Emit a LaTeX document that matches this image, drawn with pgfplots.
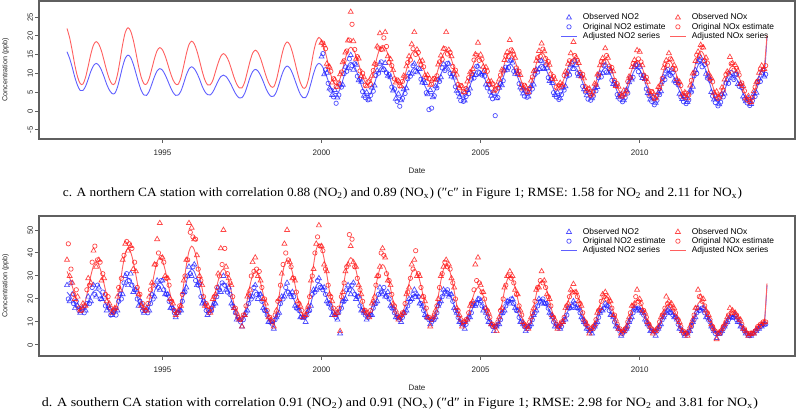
\documentclass[border=0pt]{standalone}
\usepackage{pgfplots}
\pgfplotsset{compat=1.18}
\usepackage{pgfplotstable}
\usepackage{graphicx}
\usepackage{fontspec}
\setmainfont{Liberation Serif}
\newfontfamily\arial{Liberation Sans}

\definecolor{bluemk}{RGB}{35,35,255}
\definecolor{redmk}{RGB}{255,25,25}
\definecolor{blueln}{RGB}{95,95,255}
\definecolor{redln}{RGB}{255,95,95}
\definecolor{boxgr}{RGB}{95,95,95}

% x = months since Jan 1992, b = NO2, r = NOx
% ---------- panel c (northern station) ----------
\pgfplotstableread{
m b r
0 15.8 22.0
1 14.0 19.5
2 11.6 16.0
3 8.9 12.1
4 6.8 9.1
5 5.5 7.3
6 5.5 7.2
7 6.6 9.0
8 8.5 12.0
9 10.6 15.2
10 12.1 17.6
11 12.7 18.5
12 12.2 17.8
13 10.9 16.0
14 9.1 13.4
15 7.1 10.7
16 5.6 8.5
17 4.7 7.2
18 4.7 7.3
19 6.3 9.6
20 9.0 13.5
21 11.9 17.8
22 14.1 21.0
23 14.9 22.2
24 14.3 21.3
25 12.5 18.9
26 10.1 15.5
27 7.6 11.9
28 5.5 9.0
29 4.3 7.3
30 4.2 7.2
31 5.3 8.7
32 7.2 11.3
33 9.2 14.0
34 10.7 16.1
35 11.3 16.9
36 10.9 16.3
37 9.7 14.7
38 8.1 12.5
39 6.4 10.2
40 5.0 8.3
41 4.2 7.2
42 4.3 7.2
43 5.4 9.0
44 7.4 12.0
45 9.6 15.2
46 11.2 17.7
47 11.8 18.6
48 11.3 17.9
49 10.1 16.0
50 8.5 13.4
51 6.6 10.6
52 5.2 8.3
53 4.4 7.0
54 4.3 7.0
55 5.1 8.2
56 6.5 10.5
57 8.0 12.8
58 9.2 14.6
59 9.6 15.3
60 9.2 14.7
61 8.2 13.3
62 6.9 11.2
63 5.4 9.0
64 4.2 7.2
65 3.5 6.2
66 3.6 6.2
67 4.7 7.7
68 6.7 10.4
69 8.9 13.2
70 10.5 15.4
71 11.1 16.2
72 10.7 15.6
73 9.5 14.0
74 7.9 11.8
75 6.1 9.5
76 4.7 7.6
77 3.9 6.5
78 4.0 6.5
79 5.2 8.4
80 7.3 11.5
81 9.6 14.9
82 11.3 17.4
83 12.0 18.4
84 11.5 17.7
85 10.1 15.7
86 8.2 12.9
87 6.2 10.0
88 4.5 7.6
89 3.6 6.2
90 3.6 6.3
91 5.0 8.3
92 7.4 11.8
93 10.0 15.7
94 12.0 18.5
95 12.7 19.6
96 12.2 18.8
97 10.9 16.8
98 9.1 14.1
99 7.1 11.0
100 5.6 8.6
101 4.7 7.3
102 4.7 7.2
103 5.9 8.7
104 8.2 11.3
105 10.5 14.1
106 12.3 16.2
107 13.0 17.0
108 12.5 16.4
109 11.0 14.8
110 9.0 12.6
111 6.9 10.2
112 5.2 8.3
113 4.2 7.2
114 4.2 7.2
115 5.4 8.8
116 7.4 11.5
117 9.7 14.5
118 11.4 16.7
119 12.0 17.5
120 11.5 16.9
121 10.1 15.2
122 8.3 12.9
123 6.2 10.4
124 4.6 8.4
125 3.7 7.2
126 3.7 7.2
127 4.9 8.5
128 6.9 10.9
129 9.2 13.4
130 10.9 15.3
131 11.5 16.0
132 11.1 15.5
133 10.0 14.1
134 8.4 12.3
135 6.7 10.2
136 5.4 8.6
137 4.6 7.7
138 4.7 7.7
139 5.8 8.9
140 7.7 11.2
141 9.8 13.5
142 11.4 15.3
143 12.0 16.0
144 11.5 15.4
145 10.1 13.7
146 8.3 11.4
147 6.2 8.9
148 4.6 6.9
149 3.7 5.7
150 3.7 5.7
151 4.8 7.0
152 6.7 9.4
153 8.8 11.9
154 10.4 13.8
155 11.0 14.5
156 10.6 14.0
157 9.5 12.6
158 7.9 10.8
159 6.2 8.7
160 4.9 7.1
161 4.1 6.2
162 4.2 6.2
163 5.4 7.6
164 7.7 10.1
165 10.0 12.7
166 11.8 14.7
167 12.5 15.5
168 12.0 14.9
169 10.7 13.3
170 9.0 11.1
171 7.1 8.7
172 5.5 6.8
173 4.7 5.7
174 4.7 5.7
175 5.9 7.2
176 7.9 9.8
177 10.2 12.6
178 11.9 14.7
179 12.5 15.5
180 12.0 15.0
181 10.6 13.5
182 8.8 11.5
183 6.7 9.4
184 5.1 7.7
185 4.2 6.7
186 4.2 6.7
187 5.4 7.8
188 7.4 9.7
189 9.7 11.8
190 11.4 13.4
191 12.0 14.0
192 11.5 13.5
193 10.2 12.0
194 8.5 10.0
195 6.6 7.9
196 5.0 6.2
197 4.2 5.2
198 4.2 5.2
199 5.3 6.5
200 7.2 8.9
201 9.3 11.4
202 10.9 13.3
203 11.5 14.0
204 11.0 13.4
205 9.7 11.9
206 8.0 9.8
207 6.1 7.5
208 4.5 5.7
209 3.7 4.7
210 3.7 4.7
211 4.9 6.0
212 6.9 8.4
213 9.2 10.9
214 10.9 12.8
215 11.5 13.5
216 11.0 12.9
217 9.6 11.4
218 7.7 9.3
219 5.6 7.0
220 3.9 5.2
221 3.0 4.2
222 3.0 4.2
223 4.1 5.6
224 6.1 8.1
225 8.3 10.7
226 9.9 12.7
227 10.5 13.5
228 10.1 12.9
229 8.9 11.4
230 7.2 9.3
231 5.4 7.0
232 4.0 5.2
233 3.2 4.2
234 3.2 4.2
235 4.7 6.0
236 7.3 9.2
237 10.1 12.5
238 12.2 15.0
239 13.0 16.0
240 12.4 15.3
241 10.7 13.4
242 8.4 10.8
243 5.9 8.0
244 3.9 5.7
245 2.7 4.4
246 2.6 4.4
247 3.7 5.5
248 5.5 7.6
249 7.5 9.7
250 8.9 11.4
251 9.5 12.0
252 9.1 11.5
253 8.0 10.0
254 6.4 8.0
255 4.7 5.9
256 3.4 4.2
257 2.6 3.2
258 2.7 3.2
259 3.8 4.5
260 5.7 6.9
261 7.8 9.4
262 9.4 11.3
263 10.0 12.0
264 19.6 20.2
}\TopLine

\pgfplotstableread{
m b r
96 14.5 18.2
97 9.8 17.5
98 10.2 12.6
99 6.0 11.8
100 4.3 7.6
101 5.6 8.4
102 3.6 6.5
103 7.1 9.8
104 7.0 13.0
105 11.8 15.6
106 11.4 18.8
107 14.9 26.4
108 11.0 18.6
109 12.3 13.9
110 8.2 14.0
111 7.8 9.3
112 4.1 9.0
113 5.0 6.6
114 3.1 8.1
115 6.3 9.4
116 6.8 12.6
117 10.8 17.2
118 12.6 20.7
119 10.9 16.4
120 12.8 21.0
121 9.4 14.6
122 9.0 13.8
123 5.5 10.9
124 3.3 7.6
125 4.6 8.0
126 2.9 6.6
127 5.8 9.4
128 6.1 11.9
129 10.1 14.6
130 9.9 17.8
131 12.6 21.0
132 10.3 16.4
133 11.2 13.2
134 7.6 13.4
135 7.5 9.5
136 4.5 9.6
137 5.6 7.0
138 3.7 8.5
139 6.6 8.3
140 8.4 12.4
141 9.0 14.8
142 12.5 16.6
143 11.1 21.0
144 12.6 16.3
145 9.2 14.6
146 8.9 10.6
147 5.4 9.7
148 3.8 6.1
149 4.4 6.6
150 2.8 5.0
151 5.6 7.9
152 6.0 10.3
153 9.7 11.2
154 9.6 15.1
155 11.9 18.2
156 9.8 15.0
157 10.4 11.8
158 7.1 11.7
159 7.0 8.0
160 4.1 7.9
161 4.9 5.4
162 3.4 6.9
163 6.2 8.4
164 6.9 11.0
165 10.8 13.6
166 11.0 15.7
167 13.4 18.9
168 12.9 16.0
169 9.9 14.2
170 9.8 10.2
171 6.3 9.6
172 4.7 6.0
173 5.5 6.5
174 3.9 5.0
175 6.7 8.1
176 7.1 10.6
177 11.0 13.4
178 11.2 16.0
179 13.4 18.0
180 11.2 15.9
181 11.4 12.7
182 8.0 12.3
183 7.5 8.6
184 4.3 8.5
185 5.0 6.0
186 3.4 7.5
187 6.2 7.0
188 6.6 10.5
189 10.5 12.6
190 12.2 15.4
191 11.2 18.4
192 12.3 14.3
193 9.4 12.8
194 9.3 9.2
195 5.8 8.7
196 4.2 5.4
197 5.0 6.0
198 3.4 4.4
199 6.1 7.3
200 6.4 9.7
201 10.1 12.2
202 10.1 14.1
203 12.3 16.7
204 10.2 14.2
205 10.5 11.1
206 7.2 10.6
207 6.9 6.7
208 3.7 6.5
209 4.5 3.9
210 2.9 5.5
211 5.7 5.2
212 7.7 9.2
213 8.4 11.7
214 11.7 13.6
215 12.3 16.2
216 11.8 15.8
217 8.8 12.2
218 8.5 8.5
219 4.8 7.8
220 3.1 4.4
221 3.8 5.0
222 2.2 3.4
223 4.9 6.4
224 5.3 7.3
225 9.1 11.5
226 10.7 13.5
227 9.7 15.4
228 10.9 13.7
229 8.1 12.2
230 8.0 8.5
231 4.6 7.8
232 3.2 4.4
233 4.0 5.0
234 2.4 3.4
235 5.5 6.8
236 6.5 10.0
237 10.9 13.3
238 13.0 15.8
239 14.2 17.6
240 13.2 16.9
241 9.9 14.2
242 9.2 10.0
243 5.1 8.8
244 3.1 4.9
245 3.5 5.2
246 1.8 3.6
247 4.5 6.3
248 4.7 8.4
249 8.3 10.5
250 9.7 14.4
251 8.7 12.8
252 9.9 12.3
253 7.2 10.8
254 7.2 7.2
255 3.9 6.7
256 2.6 3.4
257 3.4 4.0
258 1.9 2.4
259 4.6 5.3
260 4.9 7.7
261 8.6 10.2
262 10.2 12.1
263 9.2 11.2
}\TopObs

\pgfplotstableread{
m b r
96.5 15.3 18.1
97.5 11.0 16.6
98.5 7.4 11.8
99.5 5.6 10.6
100.5 3.8 8.6
101.5 2.1 6.5
102.5 4.3 7.5
103.5 6.4 10.4
104.5 10.0 13.4
105.5 10.6 16.0
106.5 13.9 18.9
107.5 12.1 23.1
108.5 12.6 16.4
109.5 9.3 14.5
110.5 8.5 10.7
111.5 5.2 10.1
112.5 3.6 6.9
113.5 3.0 7.8
114.5 4.2 7.1
115.5 5.3 10.8
116.5 9.5 12.4
117.5 10.1 16.8
118.5 13.1 16.4
119.5 11.0 19.5
120.5 10.2 17.2
121.5 9.7 13.0
122.5 6.4 12.1
123.5 5.9 8.6
124.5 2.6 8.3
125.5 1.3 6.7
126.5 3.4 7.9
127.5 4.7 9.1
128.5 8.6 12.9
129.5 9.3 13.6
130.5 12.1 16.6
131.5 10.6 15.1
132.5 11.4 15.6
133.5 8.5 12.3
134.5 8.2 11.8
135.5 4.9 8.9
136.5 0.4 8.6
137.5 0.8 7.2
138.5 4.1 8.7
139.5 6.2 9.4
140.5 7.9 13.1
141.5 11.5 13.8
142.5 10.8 16.6
143.5 12.7 15.2
144.5 10.0 15.6
145.5 9.9 11.9
146.5 6.5 10.9
147.5 4.8 7.1
148.5 2.8 6.8
149.5 2.6 5.1
150.5 3.9 6.0
151.5 4.7 8.9
152.5 8.5 10.0
153.5 8.8 13.6
154.5 11.9 14.9
155.5 10.2 13.5
156.5 9.6 13.8
157.5 9.3 10.8
158.5 6.2 10.6
159.5 5.1 7.1
160.5 3.3 7.3
161.5 -1.2 5.7
162.5 3.6 6.1
163.5 7.3 9.6
164.5 8.1 10.7
165.5 11.7 14.6
166.5 11.6 14.5
167.5 13.6 16.3
168.5 10.6 14.9
169.5 10.7 11.5
170.5 7.3 10.6
171.5 5.6 7.0
172.5 4.0 6.9
173.5 3.7 5.1
174.5 5.0 6.1
175.5 5.9 9.1
176.5 9.8 10.8
177.5 10.4 14.2
178.5 13.4 14.6
179.5 11.5 16.5
180.5 12.3 14.0
181.5 8.9 13.2
182.5 8.4 9.9
183.5 4.9 9.2
184.5 3.8 6.4
185.5 3.1 6.9
186.5 4.4 6.6
187.5 5.6 9.5
188.5 9.3 10.0
189.5 9.6 13.4
190.5 12.6 13.1
191.5 13.4 14.8
192.5 10.0 13.5
193.5 9.8 10.3
194.5 6.6 9.8
195.5 5.1 6.5
196.5 3.2 5.9
197.5 2.9 4.2
198.5 4.0 5.1
199.5 5.4 7.0
200.5 8.9 9.6
201.5 9.1 13.1
202.5 12.1 13.0
203.5 10.4 14.8
204.5 11.3 12.0
205.5 8.2 11.6
206.5 7.6 8.2
207.5 4.4 7.3
208.5 3.2 4.4
209.5 2.5 4.0
210.5 3.6 4.5
211.5 4.8 7.9
212.5 8.9 8.9
213.5 9.0 12.6
214.5 12.2 12.4
215.5 10.5 13.9
216.5 9.6 13.1
217.5 9.4 9.6
218.5 5.9 9.0
219.5 4.1 5.4
220.5 2.6 5.2
221.5 1.7 3.3
222.5 2.9 4.2
223.5 4.4 6.0
224.5 7.8 8.7
225.5 8.4 12.4
226.5 11.1 12.2
227.5 9.5 13.9
228.5 10.3 11.4
229.5 7.6 11.1
230.5 7.0 7.6
231.5 3.8 6.8
232.5 2.5 3.9
233.5 2.0 4.8
234.5 3.0 4.3
235.5 5.1 8.2
236.5 9.4 10.2
237.5 10.0 14.9
238.5 13.7 14.6
239.5 11.8 17.0
240.5 12.4 13.4
241.5 8.8 12.8
242.5 8.2 8.6
243.5 4.0 7.8
244.5 2.3 4.1
245.5 1.4 3.4
246.5 2.4 4.3
247.5 3.8 5.6
248.5 7.5 9.7
249.5 7.4 10.1
250.5 10.3 12.6
251.5 8.4 10.9
252.5 9.8 11.4
253.5 6.6 9.6
254.5 6.3 7.5
255.5 3.2 5.4
256.5 2.2 3.0
257.5 1.5 2.4
258.5 2.8 3.6
259.5 3.9 6.4
260.5 7.6 7.9
261.5 7.9 11.2
262.5 10.9 11.0
263.5 9.8 12.1
}\TopEst

% ---------- panel d (southern station) ----------
\pgfplotstableread{
m b r
0 23.0 32.0
1 21.6 29.3
2 19.8 25.5
3 17.7 21.4
4 16.1 18.2
5 15.2 16.3
6 15.2 16.4
7 16.5 19.4
8 18.9 24.6
9 21.4 30.2
10 23.3 34.4
11 24.0 36.0
12 23.4 34.7
13 21.7 31.3
14 19.4 26.5
15 16.9 21.4
16 14.9 17.3
17 13.7 14.9
18 13.8 15.1
19 16.1 19.2
20 20.2 26.3
21 24.5 34.0
22 27.8 39.8
23 29.0 42.0
24 28.1 40.4
25 25.8 36.2
26 22.6 30.3
27 19.1 24.0
28 16.4 18.9
29 14.8 16.0
30 14.8 16.0
31 16.6 19.3
32 19.9 25.2
33 23.4 31.5
34 26.0 36.2
35 27.0 38.0
36 26.2 36.6
37 23.9 32.7
38 20.8 27.4
39 17.5 21.7
40 14.8 17.1
41 13.3 14.5
42 13.4 14.6
43 16.4 18.9
44 21.6 26.5
45 27.2 34.6
46 31.4 40.7
47 33.0 43.0
48 31.9 41.4
49 28.8 37.0
50 24.6 30.9
51 20.1 24.3
52 16.5 19.1
53 14.4 16.1
54 14.3 15.9
55 16.2 18.5
56 19.6 23.0
57 23.2 27.9
58 26.0 31.6
59 27.0 33.0
60 26.0 31.7
61 23.3 28.1
62 19.5 23.1
63 15.4 17.7
64 12.2 13.4
65 10.3 11.0
66 10.3 10.9
67 12.4 14.2
68 16.0 19.7
69 19.9 25.8
70 22.9 30.3
71 24.0 32.0
72 23.1 30.7
73 20.7 27.1
74 17.4 22.1
75 13.8 16.7
76 11.0 12.4
77 9.3 10.0
78 9.3 10.1
79 11.6 14.2
80 15.5 21.3
81 19.7 29.0
82 22.8 34.8
83 24.0 37.0
84 23.3 35.5
85 21.3 31.6
86 18.5 26.2
87 15.5 20.3
88 13.1 15.7
89 11.8 13.0
90 11.8 13.1
91 14.1 17.9
92 18.2 26.0
93 22.5 34.9
94 25.8 41.5
95 27.0 44.0
96 26.1 42.2
97 23.8 37.3
98 20.6 30.6
99 17.1 23.3
100 14.4 17.5
101 12.8 14.1
102 12.8 14.0
103 14.6 17.7
104 17.9 24.0
105 21.4 30.9
106 24.0 36.0
107 25.0 38.0
108 24.2 36.5
109 22.1 32.5
110 19.3 27.0
111 16.2 21.0
112 13.7 16.3
113 12.3 13.5
114 12.2 13.4
115 14.0 16.7
116 17.2 22.5
117 20.5 28.6
118 23.0 33.2
119 24.0 35.0
120 23.2 33.6
121 21.1 29.8
122 18.3 24.7
123 15.2 19.0
124 12.7 14.6
125 11.3 12.0
126 11.2 11.9
127 12.9 15.2
128 15.7 20.7
129 18.8 26.8
130 21.1 31.3
131 22.0 33.0
132 21.3 31.7
133 19.4 28.1
134 16.7 23.1
135 13.8 17.7
136 11.6 13.4
137 10.2 11.0
138 10.3 11.0
139 12.4 14.7
140 16.0 21.0
141 19.9 27.9
142 22.9 33.0
143 24.0 35.0
144 23.1 33.4
145 20.6 29.3
146 17.2 23.6
147 13.5 17.3
148 10.5 12.4
149 8.8 9.5
150 8.7 9.3
151 10.3 11.7
152 13.0 15.9
153 16.0 20.4
154 18.2 23.7
155 19.0 25.0
156 18.3 24.0
157 16.5 21.3
158 13.9 17.5
159 11.2 13.4
160 9.0 10.2
161 7.7 8.3
162 7.7 8.4
163 9.5 11.7
164 12.7 17.5
165 16.0 23.6
166 18.5 28.2
167 19.5 30.0
168 18.8 28.7
169 16.8 25.1
170 14.0 20.1
171 11.0 14.7
172 8.6 10.4
173 7.3 8.0
174 7.3 7.9
175 9.2 11.0
176 12.6 16.3
177 16.2 22.1
178 19.0 26.4
179 20.0 28.0
180 19.3 26.8
181 17.3 23.6
182 14.5 19.2
183 11.5 14.4
184 9.1 10.6
185 7.8 8.4
186 7.7 8.3
187 9.3 10.6
188 12.0 14.7
189 15.0 19.0
190 17.2 22.3
191 18.0 23.5
192 17.3 22.5
193 15.4 19.8
194 12.7 16.0
195 9.8 11.9
196 7.6 8.7
197 6.2 6.8
198 6.2 6.8
199 7.9 9.1
200 10.7 13.0
201 13.8 17.2
202 16.1 20.3
203 17.0 21.5
204 16.3 20.5
205 14.4 18.0
206 11.7 14.5
207 8.8 10.6
208 6.6 7.6
209 5.2 5.8
210 5.2 5.8
211 7.0 7.9
212 9.9 11.5
213 13.2 15.4
214 15.6 18.4
215 16.5 19.5
216 15.8 18.7
217 14.1 16.5
218 11.7 13.6
219 9.0 10.3
220 6.9 7.8
221 5.7 6.3
222 5.7 6.2
223 7.1 8.0
224 9.6 11.2
225 12.2 14.5
226 14.2 17.0
227 15.0 18.0
228 14.4 17.2
229 12.7 15.1
230 10.4 12.3
231 7.9 9.2
232 5.9 6.7
233 4.7 5.3
234 4.7 5.3
235 6.5 7.4
236 9.4 11.0
237 12.7 14.9
238 15.1 17.9
239 16.0 19.0
240 15.3 18.2
241 13.5 15.9
242 10.9 12.8
243 8.2 9.5
244 6.0 6.8
245 4.7 5.3
246 4.7 5.2
247 5.9 6.6
248 7.9 9.1
249 10.2 11.7
250 11.9 13.7
251 12.5 14.5
252 12.0 13.9
253 10.6 12.3
254 8.8 10.1
255 6.7 7.7
256 5.1 5.8
257 4.2 4.7
258 4.1 4.6
259 4.9 5.4
260 6.2 6.9
261 7.6 8.4
262 8.6 9.6
263 9.0 10.0
264 26.0 26.8
}\BotLine

\pgfplotstableread{
m b r
0 26 37
1 19 30
2 22 27
3 16 20
4 17 21
5 14 15
6 16 18
7 15 17
8 21 29
9 19 27
10 26 41
11 21 34
12 25 37
13 20 28
14 21 29
15 15 19
16 16 18
17 13 14
18 15 16
19 15 21
20 22 24
21 22 37
22 30 44
23 26 41
24 31 43
25 23 33
26 24 32
27 17 22
28 18 17
29 14 16
30 16 15
31 15 21
32 22 27
33 21 35
34 28 46
35 24 53
36 28 38
37 22 30
38 22 29
39 16 20
40 16 18
41 12 13
42 14 15
43 15 17
44 23 28
45 25 37
46 34 53
47 30 51
48 35 46
49 26 39
50 27 30
51 18 26
52 18 17
53 13 17
54 15 14
55 17 20
56 18 22
57 25 31
58 23 42
59 30 50
60 24 34
61 25 29
62 18 26
63 16 16
64 11 14
65 11 11
66 8 8
67 13 13
68 15 21
69 21 24
70 21 36
71 26 38
72 20 30
73 22 28
74 16 20
75 15 18
76 10 12
77 10 11
78 7 8
79 12 15
80 14 20
81 21 31
82 21 44
83 27 50
84 22 36
85 23 29
86 17 28
87 16 19
88 12 17
89 12 12
90 10 13
91 15 17
92 17 28
93 24 33
94 24 44
95 29 52
96 25 43
97 25 35
98 19 32
99 18 22
100 13 19
101 13 13
102 11 14
103 5 6
104 19 23
105 20 32
106 26 35
107 22 43
108 27 36
109 20 34
110 21 26
111 15 22
112 14 15
113 11 14
114 13 12
115 13 18
116 18 21
117 19 30
118 25 34
119 22 42
120 21 38
121 23 28
122 17 26
123 16 18
124 12 15
125 12 11
126 10 13
127 14 14
128 15 22
129 20 25
130 20 35
131 24 37
132 22 30
133 18 30
134 17 21
135 13 19
136 12 12
137 9 8
138 11 12
139 12 15
140 17 20
141 19 30
142 24 34
143 22 37
144 21 35
145 22 29
146 16 25
147 14 16
148 10 13
149 9 8
150 7 10
151 11 11
152 12 17
153 17 19
154 17 35
155 20 38
156 19 26
157 15 23
158 14 16
159 10 14
160 9 9
161 6 8
162 8 6
163 9 12
164 14 16
165 15 25
166 19 30
167 18 32
168 20 30
169 16 24
170 15 22
171 10 15
172 9 10
173 6 8
174 8 7
175 9 12
176 13 16
177 15 24
178 20 25
179 18 32
180 18 28
181 18 22
182 14 20
183 12 13
184 8 11
185 8 7
186 7 9
187 10 10
188 11 16
189 16 18
190 16 24
191 19 26.5
192 16 23
193 16 19
194 12 17
195 10 11
196 7 9
197 6 5
198 5 7
199 8 9
200 10 14
201 14 16
202 15 22
203 18 23
204 17 21
205 13 19
206 12 13
207 8 11
208 7 7
209 4 5
210 6 6
211 7 8
212 10 12
213 12 17
214 16 18
215 15 24
216 15 20
217 14 15
218 11 14
219 9 10
220 6 8
221 6 5
222 4 6
223 7 8
224 9 12
225 12 14
226 14 21
227 16 19
228 14 18
229 12 16
230 11 12
231 7 10
232 6 6
233 4 5
234 5 4
235 6 8
236 10 11
237 12 16
238 16 24
239 15 21
240 16 20
241 12 15
242 11 13
243 8 9
244 6 7
245 3 2.5
246 5 5
247 6 7
248 8 9
249 10 12
250 12 16
251 12 15
252 13 14
253 10 12
254 8 11
255 7 7
256 5 6
257 4 4
258 4 5
259 5 5
260 6 7
261 7 8
262 8 9
263 9 10
}\BotObs

\pgfplotstableread{
m b r
0.5 20 44
1.5 27 33
2.5 18 22
3.5 19 24
4.5 15 16
5.5 16 15
6.5 14 17
7.5 18 24
8.5 18 26
9.5 25 36
10.5 22 43
11.5 26 37
12.5 20 36
13.5 23 31
14.5 17 22
15.5 17 21
16.5 13 16
17.5 14 15
18.5 13 16
19.5 19 25
20.5 20 29
21.5 27 39
22.5 31 45
23.5 28 44
24.5 26 42
25.5 24 36
26.5 20 25
27.5 19 22
28.5 15 18
29.5 15 15
30.5 14 18
31.5 18 24
32.5 20 26
33.5 26 35
34.5 25 40
35.5 28 38
36.5 24 36
37.5 22 29
38.5 19 26
39.5 16 19
40.5 14 15
41.5 14 14
42.5 15 17
43.5 19 22
44.5 23 30
45.5 30 37
46.5 31 49
47.5 34 47
48.5 28 46
49.5 26 33
50.5 21 28
51.5 19 21
52.5 15 18
53.5 14 15
54.5 15 16
55.5 18 21
56.5 21 25
57.5 24 30
58.5 27 35
59.5 26 42
60.5 23 31
61.5 22 27
62.5 17 21
63.5 14 16
64.5 12 12
65.5 10 11
66.5 11 13
67.5 14 17
68.5 18 22
69.5 20 30
70.5 25 32
71.5 22 33
72.5 22 32
73.5 19 25
74.5 15 20
75.5 13 15
76.5 10 12
77.5 9 10
78.5 11 13
79.5 13 19
80.5 18 26
81.5 20 35
82.5 25 40
83.5 23 37
84.5 21 34
85.5 21 29
86.5 16 23
87.5 15 18
88.5 12 15
89.5 12 13
90.5 13 15
91.5 15 21
92.5 22 30
93.5 23 40
94.5 28 47
95.5 25 43
96.5 24 41
97.5 22 33
98.5 18 26
99.5 16 21
100.5 14 16
101.5 12 14
102.5 14 16
103.5 16 21
104.5 19 27
105.5 24 34
106.5 24 48
107.5 26 46
108.5 22 34
109.5 21 29
110.5 17 24
111.5 15 19
112.5 13 15
113.5 12 13
114.5 13 15
115.5 16 19
116.5 18 26
117.5 22 30
118.5 23 40
119.5 25 39
120.5 21 31
121.5 20 28
122.5 16 22
123.5 14 17
124.5 12 13
125.5 11 12
126.5 12 14
127.5 14 18
128.5 17 23
129.5 19 29
130.5 22 33
131.5 21 41
132.5 21 31
133.5 18 25
134.5 15 21
135.5 12 16
136.5 11 12
137.5 10 11
138.5 11 13
139.5 14 17
140.5 18 25
141.5 21 31
142.5 23 36
143.5 24 34
144.5 22 33
145.5 19 27
146.5 15 20
147.5 12 15
148.5 10 11
149.5 9 10
150.5 9 11
151.5 12 14
152.5 14 18
153.5 18 24
154.5 18 28
155.5 20 27
156.5 17 23
157.5 16 20
158.5 12 15
159.5 10 12
160.5 8 9
161.5 8 8
162.5 9 10
163.5 11 15
164.5 14 20
165.5 17 26
166.5 19 30
167.5 20 29
168.5 18 27
169.5 15 22
170.5 12 17
171.5 10 13
172.5 8 9
173.5 7 8
174.5 8 10
175.5 11 14
176.5 14 19
177.5 17 25
178.5 19 28
179.5 20 27
180.5 18 25
181.5 16 21
182.5 13 17
183.5 10 12
184.5 9 9
185.5 8 8
186.5 8 10
187.5 11 12
188.5 13 17
189.5 16 21
190.5 17 23
191.5 18 23
192.5 16 21
193.5 14 18
194.5 11 14
195.5 9 10
196.5 7 8
197.5 6 7
198.5 7 8
199.5 9 11
200.5 12 15
201.5 15 19
202.5 16 21
203.5 17 20
204.5 15 19
205.5 13 16
206.5 10 13
207.5 8 9
208.5 6 7
209.5 5 6
210.5 6 7
211.5 8 10
212.5 11 14
213.5 14 17
214.5 16 21
215.5 16 19
216.5 15 18
217.5 13 15
218.5 10 12
219.5 8 9
220.5 6 7
221.5 6 6
222.5 6 7
223.5 8 10
224.5 11 13
225.5 13 16
226.5 15 18
227.5 14 17
228.5 13 16
229.5 12 14
230.5 9 11
231.5 7 8
232.5 5 6
233.5 5 5
234.5 6 6
235.5 8 9
236.5 11 13
237.5 14 16
238.5 15 21
239.5 16 19
240.5 14 17
241.5 12 14
242.5 10 11
243.5 7 8
244.5 5 6
245.5 5 5
246.5 5 6
247.5 7 8
248.5 9 10
249.5 11 13
250.5 12 14
251.5 12 14
252.5 11 13
253.5 10 11
254.5 8 9
255.5 6 7
256.5 5 5
257.5 4 5
258.5 5 5
259.5 6 6
260.5 7 8
261.5 8 9
262.5 9 10
263.5 9 10
}\BotEst

\pgfplotsset{
  legend image code/.code={\draw[mark repeat=2,mark phase=2,#1] plot coordinates {(0pt,0pt) (3.75pt,0pt) (7.5pt,0pt)};},
  obs/.style={only marks, mark=triangle, mark size=1.45pt, mark options={line width=0.35pt, draw opacity=0.8}},
  est/.style={only marks, mark=o, mark size=1.1pt, mark options={line width=0.35pt, draw opacity=0.8}},
  adj/.style={no markers, line width=0.45pt, smooth, tension=0.5},
  rbox/.style={
    scale only axis, width=378pt,
    xmin=-10.56, xmax=274.56,
    axis line style={boxgr, line width=0.6pt},
    tick style={boxgr, line width=0.5pt},
    tick align=outside, major tick length=2pt,
    xtick pos=bottom, ytick pos=left,
    xtick={36,96,156,216}, xticklabels={1995,2000,2005,2010},
    xticklabel style={font=\arial\fontsize{4}{4.5}\selectfont, text=black!85},
    yticklabel style={font=\arial\fontsize{3.8}{4.2}\selectfont, text=black!85, rotate=90, anchor=south, inner sep=0.8pt},
    legend columns=2,
    legend cell align=left,
    legend style={draw=none, fill=none, inner sep=0pt, anchor=north west,
      font=\arial\fontsize{4.2}{4.5}\selectfont,
      nodes={inner sep=0pt, text height=3.2pt, text depth=0.9pt},
      row sep=0.5pt,
      /tikz/every odd column/.style={column sep=3pt},
      /tikz/every even column/.style={column sep=2.2pt}},
  },
}

\newcommand{\legendsix}{%
  \addlegendimage{obs, bluemk}\addlegendentry{Observed NO2}
  \addlegendimage{obs, redmk}\addlegendentry{Observed NOx}
  \addlegendimage{est, bluemk}\addlegendentry{Original NO2 estimate}
  \addlegendimage{est, redmk}\addlegendentry{Original NOx estimate}
  \addlegendimage{adj, blueln}\addlegendentry{Adjusted NO2 series}
  \addlegendimage{adj, redln}\addlegendentry{Adjusted NOx series}
}

\begin{document}
\begin{tikzpicture}
\path[use as bounding box] (0,0) rectangle (400pt,207.5pt);

\begin{axis}[rbox, name=axA, at={(19.5pt,207pt)}, anchor=north west, height=69pt,
  ymin=-7.4, ymax=29.3, ytick={-5,0,...,25}, yticklabels={-5,0,5,10,15,20,25},
  legend style={at={(rel axis cs:0.69,0.912)}}]
\legendsix
\addplot[obs, bluemk, forget plot] table[x=m, y=b] \TopObs;
\addplot[est, bluemk, forget plot] table[x=m, y=b] \TopEst;
\addplot[adj, blueln, forget plot] table[x=m, y=b] \TopLine;
\addplot[obs, redmk, forget plot] table[x=m, y=r] \TopObs;
\addplot[est, redmk, forget plot] table[x=m, y=r] \TopEst;
\addplot[adj, redln, forget plot] table[x=m, y=r] \TopLine;
\end{axis}

\begin{axis}[rbox, name=axB, at={(19.5pt,99.5pt)}, anchor=north west, height=70pt,
  ymin=-4.8, ymax=56.1, ytick={0,10,...,50}, yticklabels={0,10,20,30,40,50},
  legend style={at={(rel axis cs:0.69,0.918)}}]
\legendsix
\addplot[obs, bluemk, forget plot] table[x=m, y=b] \BotObs;
\addplot[est, bluemk, forget plot] table[x=m, y=b] \BotEst;
\addplot[adj, blueln, forget plot] table[x=m, y=b] \BotLine;
\addplot[obs, redmk, forget plot] table[x=m, y=r] \BotObs;
\addplot[est, redmk, forget plot] table[x=m, y=r] \BotEst;
\addplot[adj, redln, forget plot] table[x=m, y=r] \BotLine;
\end{axis}

\foreach \ax in {axA, axB} {
  \node[font=\arial\fontsize{4}{4.5}\selectfont, text=black!85] at ([yshift=-16pt]\ax.south) {Date};
  \node[rotate=90, font=\arial\fontsize{3.6}{4}\selectfont, text=black!85] at ([xshift=-16.75pt]\ax.west) {Concentration (ppb)};
}

\node[anchor=base, inner sep=0pt] at (201.25pt,109pt) {\resizebox{339.5pt}{\height}{\fontsize{6.3}{7}\selectfont c. A northern CA station with correlation 0.88 (NO\textsubscript{2}) and 0.89 (NO\textsubscript{x}) (″c″ in Figure 1; RMSE: 1.58 for NO\textsubscript{2} and 2.11 for NO\textsubscript{x})}};
\node[anchor=base, inner sep=0pt] at (200pt,4pt) {\resizebox{358pt}{\height}{\fontsize{6.3}{7}\selectfont d. A southern CA station with correlation 0.91 (NO\textsubscript{2}) and 0.91 (NO\textsubscript{x}) (″d″ in Figure 1; RMSE: 2.98 for NO\textsubscript{2} and 3.81 for NO\textsubscript{x})}};
\end{tikzpicture}
\end{document}
